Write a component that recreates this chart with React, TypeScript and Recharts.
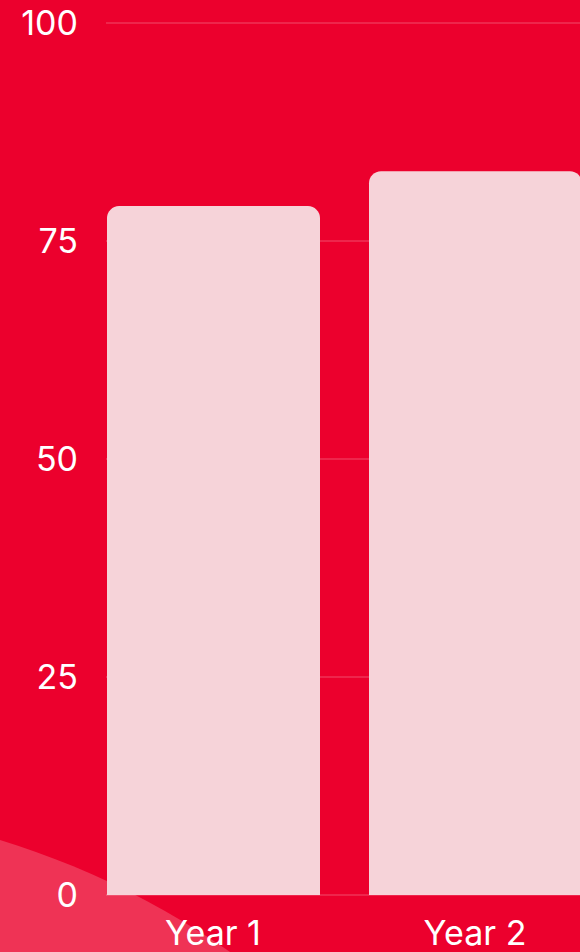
import { BarChart, Bar, XAxis, YAxis, CartesianGrid } from 'recharts';

const years = ['Year 1', 'Year 2'];
const scores = [79, 83];
const yTicks = [0, 25, 50, 75, 100];

const data = years.map((year, i) => ({ year, score: scores[i] }));

const RED = '#ec002d';
const PINK = '#f6d3d9';
const tickStyle = { fill: '#ffffff', fontSize: 34, fontFamily: 'Inter, "Noto Sans", sans-serif' };
const yTickStyle = { ...tickStyle, fontVariantNumeric: 'tabular-nums' };

export default function App() {
  return (
    <div style={{ position: 'fixed', left: 0, top: 0, width: 580, height: 952, background: RED, overflow: 'hidden' }}>
      {/* soft blob in the lower-left corner, sits behind the chart */}
      <div
        style={{
          position: 'absolute', left: -1077, top: 803, width: 1664, height: 1664,
          borderRadius: '50%', background: '#ef3355',
        }}
      />
      <div style={{ position: 'absolute', left: 0, top: 0 }}>
        <BarChart width={580} height={952} data={data} margin={{ top: 23, right: 0, bottom: 0, left: 0 }}>
          <CartesianGrid vertical={false} stroke="rgba(255,255,255,0.3)" strokeWidth={1} />
          <XAxis
            dataKey="year" axisLine={false} tickLine={false} tickSize={0} tickMargin={26}
            height={57} padding={{ left: -24, right: -26 }} tick={tickStyle} interval={0}
          />
          <YAxis
            domain={[0, 100]} ticks={yTicks} axisLine={false} tickLine={false}
            tickSize={0} tickMargin={28} width={106} tick={yTickStyle}
          />
          <Bar dataKey="score" fill={PINK} barSize={213} radius={[12, 12, 0, 0]} isAnimationActive={false} />
        </BarChart>
      </div>
    </div>
  );
}
